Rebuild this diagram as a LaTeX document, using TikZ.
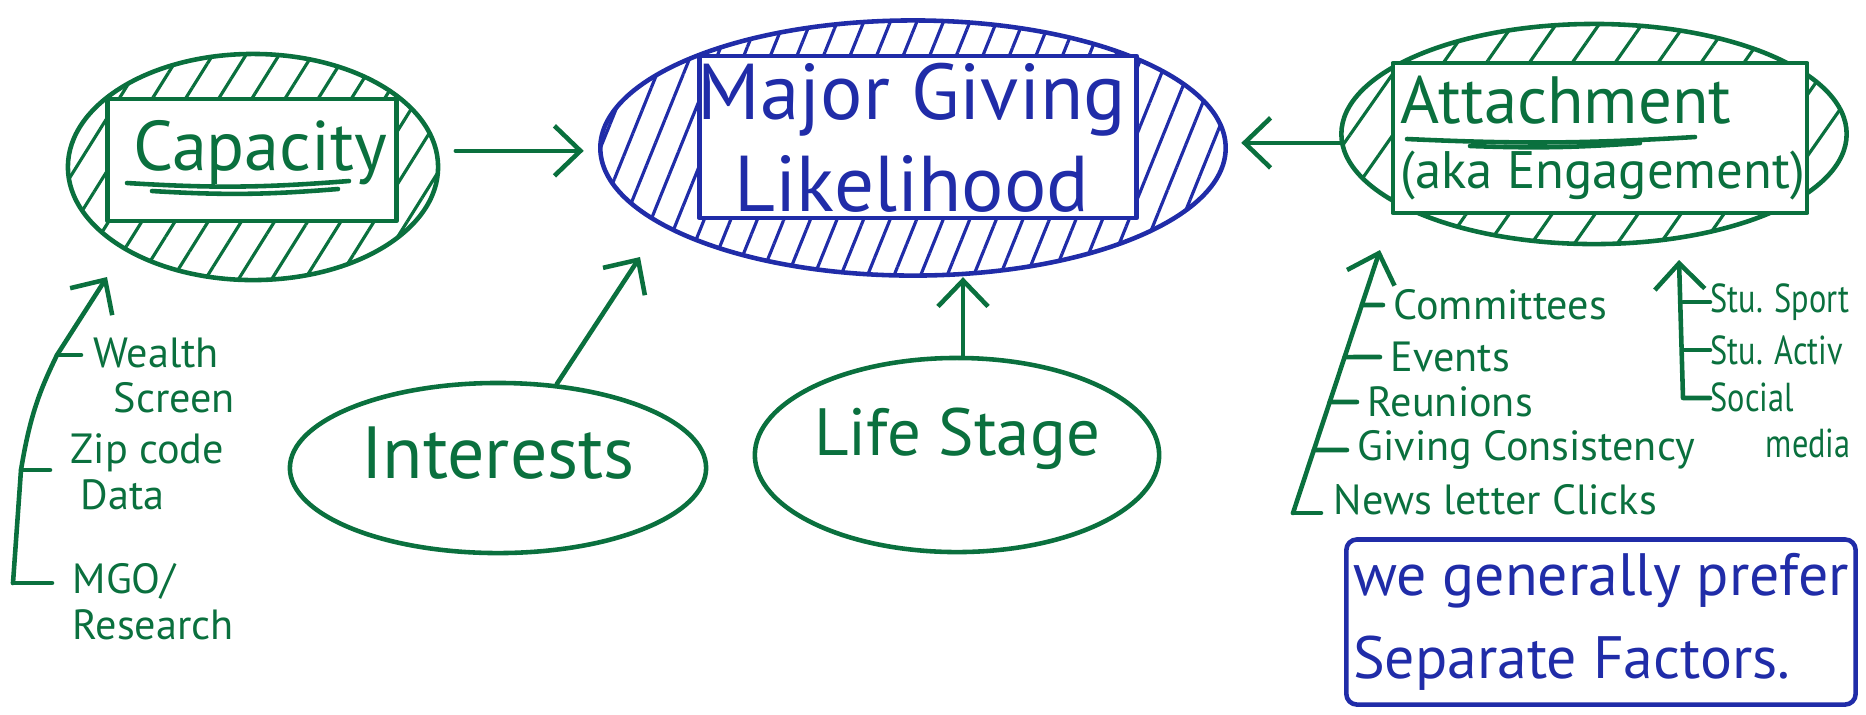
\documentclass[tikz,border=0pt]{standalone}
\usepackage{fontspec}
\setmainfont{PT Sans}
\usepackage{xcolor,graphicx}
\definecolor{pengreen}{RGB}{10,112,62}
\definecolor{penblue}{RGB}{32,44,168}
\usetikzlibrary{arrows.meta,positioning,shapes.geometric,shapes.misc,patterns.meta,calc}
\newcommand{\narrowtext}[1]{\scalebox{0.8}[1]{#1}}

\begin{document}
\begin{tikzpicture}[
  x=0.01cm, y=-0.01cm,
  line cap=round, line join=round,
  every node/.style={inner sep=0pt, align=center},
  gline/.style={draw=pengreen, line width=1.3pt},
  bline/.style={draw=penblue, line width=1.3pt},
  factor/.style={ellipse, gline, text=pengreen},
  hatchg/.style={pattern={Lines[angle=58,distance=8pt,line width=0.9pt]}, pattern color=pengreen},
  hatchb/.style={pattern={Lines[angle=68,distance=7pt,line width=0.9pt]}, pattern color=penblue},
  innerbox/.style={rectangle, fill=white},
  bigtext/.style={font=\fontsize{20}{24}\selectfont},
  item/.style={text=pengreen, align=left, font=\fontsize{12}{13}\selectfont},
  penarrow/.style={gline, -{Straight Barb[length=0.26cm,width=0.5cm]}}
]
\useasboundingbox (0,0) rectangle (1866,714);

% capacity
\node[factor, hatchg, minimum width=3.70cm, minimum height=2.26cm] (capOut) at (253,167) {};
\node[innerbox, gline, minimum width=2.89cm, minimum height=1.22cm] (capBox) at (252,160) {};
\node[bigtext, text=pengreen] (capLabel) at (260,153) {Capacity};
\draw[gline] (127,183) to[bend right=4] (349,181);
\draw[gline] (152,191) to[bend right=4] (338,189);

% major giving likelihood
\node[ellipse, bline, hatchb, minimum width=6.25cm, minimum height=2.55cm] (majOut) at (913,148) {};
\node[chamfered rectangle, chamfered rectangle corners=south west,
      chamfered rectangle xsep=0.45cm, chamfered rectangle ysep=0.6cm,
      bline, fill=white, minimum width=4.37cm, minimum height=1.62cm] (majBox) at (918,137) {};
\node[font=\fontsize{22.5}{26}\selectfont, text=penblue] (majLabel) at (912,138) {Major Giving\\Likelihood};

% attachment
\node[factor, pattern={Lines[angle=55,distance=10pt,line width=0.9pt]}, pattern color=pengreen,
      minimum width=5.05cm, minimum height=2.2cm] (attOut) at (1594,134) {};
\node[innerbox, gline, minimum width=4.14cm, minimum height=1.5cm] (attBox) at (1600,138) {};
\node[text=pengreen, align=left, anchor=west, font=\fontsize{19}{18.4}\selectfont] (attLabel) at (1400,138)
  {Attachment\\{\fontsize{15}{18.4}\selectfont (aka Engagement)}};
\draw[gline] (1407,139) to[bend right=3] (1695,137);
\draw[gline] (1470,146) to[bend right=3] (1640,143);

% interests and life stage
\node[factor, minimum width=4.16cm, minimum height=1.70cm, text depth=0.3cm,
      font=\fontsize{21}{24}\selectfont] (intNode) at (498,468) {Interests};
\node[factor, minimum width=3.84cm, minimum height=1.94cm, text depth=0.46cm,
      font=\fontsize{19}{22}\selectfont] (lifeNode) at (957,455) {Life Stage};

% arrows into the likelihood
\coordinate (intTip) at (640,257);
\draw[penarrow, shorten <=0.18cm, shorten >=0.15cm] (capOut.5) -- (capOut.5 -| majOut.west);
\draw[penarrow, shorten >=0.14cm] (attOut.182) -- (attOut.182 -| majOut.east);
\draw[penarrow] (intNode.55) -- (intTip);
\draw[penarrow] ([xshift=0.06cm]lifeNode.north) -- ([xshift=0.06cm]lifeNode.north |- majOut.south);

% capacity sources
\coordinate (lBot) at (13,583);
\coordinate (lZip) at (21,470);
\coordinate (lWea) at (57,355);
\coordinate (capTip) at (107,277);
\node[item, anchor=north west] (wealth) at (93,337) {Wealth\\\hspace*{0.2cm}Screen};
\node[item, anchor=north west] (zip) at (70,433) {Zip code\\\hspace*{0.1cm}Data};
\node[item, anchor=north west] (mgo) at (72,563) {MGO/\\Research};
\draw[penarrow] (lBot) -- (lZip) .. controls (30,415) and (40,390) .. (lWea) -- (capTip);
\draw[gline, shorten >=0.12cm] (lWea) -- (lWea -| wealth.west);
\draw[gline, shorten >=0.2cm] (lZip) -- (lZip -| zip.west);
\draw[gline, shorten >=0.2cm] (lBot) -- (lBot -| mgo.west);

% attachment sources
\coordinate (aBot) at (1293,513);
\coordinate (attTip1) at (1380,250);
\node[item, anchor=west] (comm) at (1393,305) {Committees};
\node[item, anchor=west] (evt) at (1390,357) {Events};
\node[item, anchor=west] (reu) at (1367,402) {Reunions};
\node[item, anchor=west] (giv) at (1357,450) {Giving Consistency};
\node[item, anchor=west] (news) at (1333,500) {News letter Clicks};
\draw[penarrow] (aBot) -- (attTip1);
\foreach \name in {comm,evt,reu,giv}
  \draw[gline, shorten >=0.1cm] (intersection of aBot--attTip1 and \name.west--\name.east) -- (\name.west);
\draw[gline, shorten >=0.12cm] (aBot) -- (aBot -| news.west);

\coordinate (sBot) at (1683,398);
\coordinate (attTip2) at (1679,260);
\node[item, anchor=west, font=\fontsize{11.5}{13}\selectfont] (stuSp) at (1710,302) {\narrowtext{Stu. Sport}};
\node[item, anchor=west, font=\fontsize{11.5}{13}\selectfont] (stuAc) at (1710,350) {\narrowtext{Stu. Activ}};
\node[item, anchor=north west, font=\fontsize{11.5}{13}\selectfont] (soc) at (1710,382)
  {\narrowtext{Social}\\\hspace*{0.55cm}\narrowtext{media}};
\draw[penarrow] (sBot -| soc.west) -- (sBot) -- (attTip2);
\draw[gline] (stuSp.west -| sBot) -- (stuSp.west);
\draw[gline] (stuAc.west -| sBot) -- (stuAc.west);

% note
\node[draw=penblue, line width=1.3pt, rounded corners=3pt, minimum width=5.09cm, minimum height=1.65cm,
      text=penblue, align=left, font=\fontsize{17}{23.5}\selectfont] (note) at (1601,622)
  {we generally prefer\\Separate Factors.};
\end{tikzpicture}
\end{document}
